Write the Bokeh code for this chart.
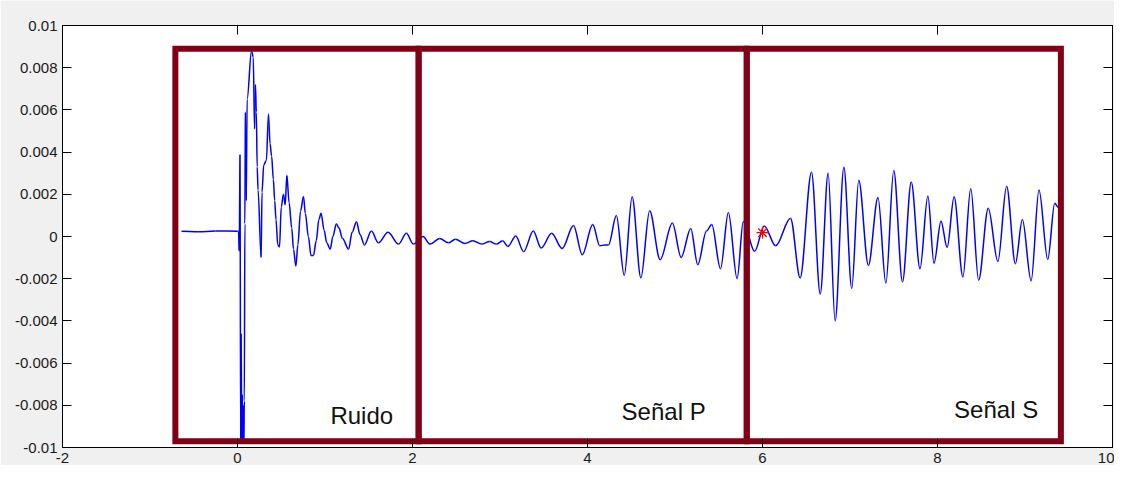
import numpy as np
from bokeh.plotting import figure
from bokeh.models import FixedTicker, LinearAxis, ColumnDataSource, Range1d
from bokeh.core.properties import value
from bokeh.embed import file_html
from bokeh.resources import INLINE

# ---------------- data ----------------
t_sec = [
    -0.64, -0.45, -0.25, 0.00, 0.012, 0.02, 0.029, 0.036, 0.042, 0.048, 0.054, 0.060, 0.066,
    0.072, 0.078, 0.084, 0.090, 0.100, 0.110, 0.160, 0.180, 0.195, 0.205, 0.215, 0.225, 0.235,
    0.270, 0.280, 0.300, 0.330, 0.354, 0.372, 0.390, 0.410, 0.425, 0.440, 0.460, 0.480,
    0.500, 0.525, 0.545, 0.564, 0.590, 0.620, 0.640, 0.667, 0.690, 0.720, 0.754, 0.775,
    0.810, 0.840, 0.868, 0.900, 0.930, 0.955, 0.990, 1.020, 1.060, 1.090, 1.130, 1.160,
    1.200, 1.270, 1.310, 1.360, 1.400, 1.450, 1.530, 1.610, 1.720, 1.840, 1.930, 2.010,
    2.120, 2.200, 2.310, 2.410, 2.490, 2.600, 2.690, 2.790, 2.880, 2.960, 3.030, 3.090,
    3.180, 3.270, 3.380, 3.470, 3.590, 3.710, 3.840, 3.940, 4.060, 4.140, 4.200, 4.240,
    4.330, 4.420, 4.510, 4.610, 4.710, 4.830, 4.970, 5.070, 5.180, 5.260, 5.360, 5.420,
    5.520, 5.610, 5.710, 5.780, 5.910, 6.020, 6.150, 6.320, 6.430, 6.560, 6.660, 6.750,
    6.830, 6.930, 7.020, 7.100, 7.210, 7.320, 7.410, 7.500, 7.600, 7.700, 7.800, 7.890,
    7.960, 8.040, 8.110, 8.190, 8.290, 8.380, 8.470, 8.580, 8.690, 8.790, 8.890, 8.970,
    9.070, 9.160, 9.260, 9.340, 9.380,
]
amplitude = [
    0.00025, 0.00022, 0.00026, 0.00025, 0.00025, -0.0007, 0.0039, -0.0097, -0.0046, -0.0097, -0.0075, -0.0097, -0.0080,
    -0.0097, -0.0078, 0.0006, 0.0059, 0.0017, 0.0065, 0.0088, 0.0085, 0.0051, 0.0072, 0.0059, 0.0033, 0.0022,
    -0.0010, 0.0021, 0.0034, 0.0036, 0.0058, 0.0044, 0.0038, 0.0027, 0.0017, 0.0008, -0.0004, -0.0005,
    0.0014, 0.0020, 0.0015, 0.0029, 0.0016, 0.0004, -0.0006, -0.0014, -0.0004, 0.0012, 0.0019, 0.0011,
    0.0000, -0.0009, -0.0009, -0.0002, 0.0008, 0.0011, 0.0003, -0.0003, -0.0006, 0.0000, 0.0006, 0.0004,
    -0.0001, -0.0006, 0.0002, 0.0007, 0.0001, -0.0004, 0.00026, -0.0003, 0.0002, -0.00036, 0.00015, -0.00036,
    0.0000, -0.00036, -0.0001, -0.0003, -0.00013, -0.00033, -0.0002, -0.00036, -0.00024, -0.00036, -0.0002, -0.00047,
    0.00002, -0.00072, 0.00026, -0.00055, 0.00015, -0.00057, 0.00052, -0.00087, 0.00057, -0.00044, -0.0004, -0.0004,
    0.00099, -0.00184, 0.00188, -0.00196, 0.00122, -0.0011, 0.00064, -0.00099, 0.00038, -0.00134, 0.00026, 0.00057,
    -0.00153, 0.00114, -0.0020, 0.0007, -0.0007, 0.0005, -0.00044, 0.00087, -0.00196, 0.00305, -0.00273, 0.0030,
    -0.0040, 0.00328, -0.00246, 0.00266, -0.00137, 0.00185, -0.00222, 0.00313, -0.00215, 0.00258, -0.00153, 0.00192,
    -0.00127, 0.00072, -0.00052, 0.00188, -0.00192, 0.00227, -0.00207, 0.00134, -0.00119, 0.00238, -0.00129, 0.0008,
    -0.0021, 0.0022, -0.00109, 0.00157, 0.00139,
]

pick_t = [6.00]
pick_amp = [0.00018]

section_edges = [-0.71, 2.07, 5.82, 9.41]
section_names = ["Ruido", "Señal P", "Señal S"]
box_top = 0.0089
box_bottom = -0.0097

x_ticks = [-2, 0, 2, 4, 6, 8, 10]
x_tick_labels = ["-2", "0", "2", "4", "6", "8", "10"]
y_ticks = [-0.01, -0.008, -0.006, -0.004, -0.002, 0.0, 0.002, 0.004, 0.006, 0.008, 0.01]
y_tick_labels = ["-0.01", "-0.008", "-0.006", "-0.004", "-0.002", "0",
                 "0.002", "0.004", "0.006", "0.008", "0.01"]

# label anchor positions (data coords)
label_x = [1.42, 4.87, 8.67]
label_y = [-0.0085, -0.0083, -0.0082]

# ---------------- figure ----------------
p = figure(width=1114, height=465,
           x_range=Range1d(-2, 10), y_range=Range1d(-0.01, 0.01),
           output_backend="svg", toolbar_location=None,
           min_border_left=62, min_border_top=25, min_border_right=2, min_border_bottom=18)
p.background_fill_color = "white"
p.border_fill_color = "#f0f0f0"
p.outline_line_color = "black"
p.outline_line_width = 1
p.xgrid.visible = False
p.ygrid.visible = False

FONT = "Liberation Sans"

def style_axis(ax, ticks, labels, show_labels=True):
    ax.ticker = FixedTicker(ticks=ticks)
    ax.major_tick_in = 9
    ax.major_tick_out = 0
    ax.minor_tick_line_color = None
    ax.axis_line_color = "black"
    ax.major_tick_line_color = "black"
    if show_labels:
        ax.major_label_overrides = {tk: lb for tk, lb in zip(ticks, labels)}
        ax.major_label_text_font = FONT
        ax.major_label_text_color = "#1a1a1a"
        ax.major_label_text_font_size = "15px"
        ax.major_label_standoff = 5
    else:
        ax.major_label_text_color = None
        ax.major_label_text_font_size = "1px"
        ax.major_label_standoff = 0

style_axis(p.xaxis[0], x_ticks, x_tick_labels)
style_axis(p.yaxis[0], y_ticks, y_tick_labels)

top_ax = LinearAxis()
style_axis(top_ax, x_ticks, x_tick_labels, show_labels=False)
p.add_layout(top_ax, "above")
right_ax = LinearAxis()
style_axis(right_ax, y_ticks, y_tick_labels, show_labels=False)
p.add_layout(right_ax, "right")

# waveform drawn as smooth cubic segments between the read points
t = np.array(t_sec, dtype=float)
a = np.array(amplitude, dtype=float)
dt = t[1:] - t[:-1]
seg = ColumnDataSource(dict(
    x0=t[:-1], y0=a[:-1], x1=t[1:], y1=a[1:],
    cx0=t[:-1] + dt / 3.0, cy0=a[:-1],
    cx1=t[1:] - dt / 3.0, cy1=a[1:],
))
p.bezier(x0="x0", y0="y0", x1="x1", y1="y1", cx0="cx0", cy0="cy0", cx1="cx1", cy1="cy1",
         source=seg, line_color="#0000ff", line_width=1.5)

# pick marker
p.scatter(pick_t, pick_amp, marker="asterisk", size=12, line_color="#ff0000", line_width=1.3)

# section boxes
p.quad(left=section_edges[:-1], right=section_edges[1:],
       top=[box_top] * len(section_names), bottom=[box_bottom] * len(section_names),
       fill_alpha=0, line_color="#820016", line_width=6, line_join="miter")

# section labels
p.text(x=label_x, y=label_y, text=section_names,
       text_font=value(FONT), text_font_size="24px", text_color="#111111",
       text_align="center", text_baseline="alphabetic")

open("out.html", "w").write(file_html(p, INLINE))
